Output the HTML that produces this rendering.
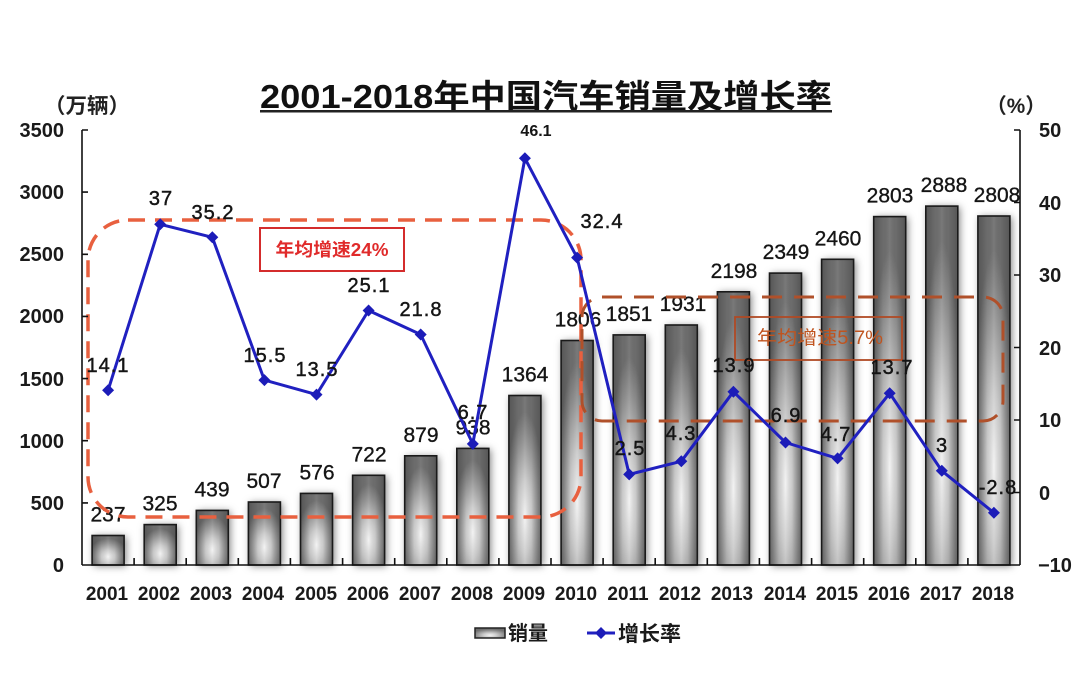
<!DOCTYPE html>
<html><head><meta charset="utf-8"><style>
html,body{margin:0;padding:0;background:#fff;}
svg{display:block;}
text{font-family:"Liberation Sans","Noto Sans CJK SC",sans-serif;}
</style></head><body>
<svg width="1080" height="685" viewBox="0 0 1080 685" xmlns="http://www.w3.org/2000/svg">
<defs>
<radialGradient id="bg" cx="0.5" cy="0.72" r="0.62">
<stop offset="0" stop-color="#f2f2f2"/>
<stop offset="0.35" stop-color="#cccccc"/>
<stop offset="0.75" stop-color="#909090"/>
<stop offset="1" stop-color="#6e6e6e"/>
</radialGradient>
<linearGradient id="hg" x1="0" y1="0" x2="1" y2="0">
<stop offset="0" stop-color="#000" stop-opacity="0.22"/>
<stop offset="0.3" stop-color="#000" stop-opacity="0.02"/>
<stop offset="0.5" stop-color="#fff" stop-opacity="0.08"/>
<stop offset="0.7" stop-color="#000" stop-opacity="0.02"/>
<stop offset="1" stop-color="#000" stop-opacity="0.22"/>
</linearGradient>
<filter id="sh" x="-50%" y="-10%" width="200%" height="120%">
<feDropShadow dx="2" dy="1" stdDeviation="4" flood-color="#000" flood-opacity="0.5"/>
</filter>
</defs>

<!-- title -->
<text x="260" y="108" font-size="33" font-weight="bold" fill="#111" textLength="572" lengthAdjust="spacingAndGlyphs">2001-2018年中国汽车销量及增长率</text>
<rect x="260" y="110" width="572" height="2.5" fill="#222"/>

<!-- unit labels -->
<text x="44" y="113" font-size="21" font-weight="bold" fill="#222" textLength="86" lengthAdjust="spacingAndGlyphs">（万辆）</text>
<text x="986" y="113" font-size="21" font-weight="bold" fill="#222" textLength="60" lengthAdjust="spacingAndGlyphs">（%）</text>

<!-- bars -->
<g filter="url(#sh)">
<rect x="92.1" y="535.5" width="32" height="29.5" fill="url(#bg)"/>
<rect x="144.2" y="524.6" width="32" height="40.4" fill="url(#bg)"/>
<rect x="196.3" y="510.4" width="32" height="54.6" fill="url(#bg)"/>
<rect x="248.4" y="502.0" width="32" height="63.0" fill="url(#bg)"/>
<rect x="300.5" y="493.4" width="32" height="71.6" fill="url(#bg)"/>
<rect x="352.6" y="475.3" width="32" height="89.7" fill="url(#bg)"/>
<rect x="404.7" y="455.8" width="32" height="109.2" fill="url(#bg)"/>
<rect x="456.8" y="448.4" width="32" height="116.6" fill="url(#bg)"/>
<rect x="508.9" y="395.5" width="32" height="169.5" fill="url(#bg)"/>
<rect x="561.1" y="340.5" width="32" height="224.5" fill="url(#bg)"/>
<rect x="613.2" y="334.9" width="32" height="230.1" fill="url(#bg)"/>
<rect x="665.3" y="325.0" width="32" height="240.0" fill="url(#bg)"/>
<rect x="717.4" y="291.8" width="32" height="273.2" fill="url(#bg)"/>
<rect x="769.5" y="273.1" width="32" height="291.9" fill="url(#bg)"/>
<rect x="821.6" y="259.3" width="32" height="305.7" fill="url(#bg)"/>
<rect x="873.7" y="216.6" width="32" height="348.4" fill="url(#bg)"/>
<rect x="925.8" y="206.1" width="32" height="358.9" fill="url(#bg)"/>
<rect x="977.9" y="216.0" width="32" height="349.0" fill="url(#bg)"/>
</g>
<g fill="url(#hg)" stroke="#1a1a1a" stroke-width="1.6">
<rect x="92.1" y="535.5" width="32" height="29.5"/>
<rect x="144.2" y="524.6" width="32" height="40.4"/>
<rect x="196.3" y="510.4" width="32" height="54.6"/>
<rect x="248.4" y="502.0" width="32" height="63.0"/>
<rect x="300.5" y="493.4" width="32" height="71.6"/>
<rect x="352.6" y="475.3" width="32" height="89.7"/>
<rect x="404.7" y="455.8" width="32" height="109.2"/>
<rect x="456.8" y="448.4" width="32" height="116.6"/>
<rect x="508.9" y="395.5" width="32" height="169.5"/>
<rect x="561.1" y="340.5" width="32" height="224.5"/>
<rect x="613.2" y="334.9" width="32" height="230.1"/>
<rect x="665.3" y="325.0" width="32" height="240.0"/>
<rect x="717.4" y="291.8" width="32" height="273.2"/>
<rect x="769.5" y="273.1" width="32" height="291.9"/>
<rect x="821.6" y="259.3" width="32" height="305.7"/>
<rect x="873.7" y="216.6" width="32" height="348.4"/>
<rect x="925.8" y="206.1" width="32" height="358.9"/>
<rect x="977.9" y="216.0" width="32" height="349.0"/>
</g>

<!-- bar value labels -->
<g font-size="21" fill="#151515" text-anchor="middle" stroke="#151515" stroke-width="0.35">
<text x="108" y="521.5">237</text>
<text x="160" y="510.6">325</text>
<text x="212" y="496.4">439</text>
<text x="264" y="488">507</text>
<text x="317" y="479.4">576</text>
<text x="369" y="461.3">722</text>
<text x="421" y="441.8">879</text>
<text x="473" y="434.4">938</text>
<text x="525" y="381.5">1364</text>
<text x="578" y="326.5">1806</text>
<text x="629" y="320.9">1851</text>
<text x="683" y="311">1931</text>
<text x="734" y="277.8">2198</text>
<text x="786" y="259.1">2349</text>
<text x="838" y="245.3">2460</text>
<text x="890" y="202.6">2803</text>
<text x="944" y="192.1">2888</text>
<text x="997" y="202">2808</text>
</g>

<!-- dashed boxes -->
<rect x="88" y="220" width="493" height="297" rx="40" ry="40" fill="none" stroke="#e8603f" stroke-width="3.5" stroke-dasharray="17 10"/>
<rect x="582" y="297" width="421" height="124" rx="20" ry="20" fill="none" stroke="#b0502a" stroke-width="3" stroke-dasharray="20 12"/>

<!-- annotation boxes -->
<rect x="260" y="228" width="144" height="43" fill="#fff" stroke="#d42c2c" stroke-width="2"/>
<text x="332" y="256" font-size="18" font-weight="bold" fill="#e02a2a" text-anchor="middle" textLength="113" lengthAdjust="spacingAndGlyphs">年均增速24%</text>
<rect x="735" y="317" width="167" height="43" fill="none" stroke="#b04a25" stroke-width="1.8"/>
<text x="820" y="344" font-size="19" fill="#c0541f" text-anchor="middle" textLength="126" lengthAdjust="spacingAndGlyphs">年均增速5.7%</text>

<!-- axes -->
<g stroke="#111" stroke-width="1.6" fill="none">
<line x1="82" y1="130" x2="82" y2="565"/>
<line x1="82" y1="565" x2="1020" y2="565"/>
<line x1="1020" y1="130" x2="1020" y2="565"/>
<path d="M82 130h6M82 192.1h6M82 254.3h6M82 316.4h6M82 378.6h6M82 440.7h6M82 502.9h6"/>
<path d="M1020 130h-6M1020 202.5h-6M1020 275h-6M1020 347.5h-6M1020 420h-6M1020 492.5h-6"/>
<path d="M134.1 565v-7M186.2 565v-7M238.3 565v-7M290.4 565v-7M342.6 565v-7M394.7 565v-7M446.8 565v-7M498.9 565v-7M551 565v-7M603.1 565v-7M655.2 565v-7M707.3 565v-7M759.4 565v-7M811.6 565v-7M863.7 565v-7M915.8 565v-7M967.9 565v-7"/>
</g>

<!-- left labels -->
<g font-size="20" font-weight="bold" fill="#1a1a1a" text-anchor="end">
<text x="64" y="137">3500</text>
<text x="64" y="199">3000</text>
<text x="64" y="261">2500</text>
<text x="64" y="323">2000</text>
<text x="64" y="386">1500</text>
<text x="64" y="448">1000</text>
<text x="64" y="510">500</text>
<text x="64" y="572">0</text>
</g>
<!-- right labels -->
<g font-size="20" font-weight="bold" fill="#1a1a1a">
<text x="1039" y="137">50</text>
<text x="1039" y="210">40</text>
<text x="1039" y="282">30</text>
<text x="1039" y="355">20</text>
<text x="1039" y="427">10</text>
<text x="1039" y="500">0</text>
<text x="1038" y="572">−10</text>
</g>
<!-- year labels -->
<g font-size="19" font-weight="bold" fill="#1a1a1a" text-anchor="middle">
<text x="107" y="600">2001</text>
<text x="159" y="600">2002</text>
<text x="211" y="600">2003</text>
<text x="263" y="600">2004</text>
<text x="316" y="600">2005</text>
<text x="368" y="600">2006</text>
<text x="420" y="600">2007</text>
<text x="472" y="600">2008</text>
<text x="524" y="600">2009</text>
<text x="576" y="600">2010</text>
<text x="628" y="600">2011</text>
<text x="680" y="600">2012</text>
<text x="732" y="600">2013</text>
<text x="785" y="600">2014</text>
<text x="837" y="600">2015</text>
<text x="889" y="600">2016</text>
<text x="941" y="600">2017</text>
<text x="993" y="600">2018</text>
</g>

<!-- growth line -->
<polyline fill="none" stroke="#2020c0" stroke-width="3" stroke-linejoin="round" points="108.1,390.3 160.2,224.3 212.3,237.3 264.4,380.1 316.5,394.6 368.6,310.5 420.7,334.5 472.8,443.9 524.9,158.3 577.1,257.6 629.2,474.4 681.3,461.3 733.4,391.7 785.5,442.5 837.6,458.4 889.7,393.2 941.8,470.8 993.9,512.8"/>
<g fill="#1c1cb8">
<path d="M108.1 384.3l6 6-6 6-6-6z"/>
<path d="M160.2 218.3l6 6-6 6-6-6z"/>
<path d="M212.3 231.3l6 6-6 6-6-6z"/>
<path d="M264.4 374.1l6 6-6 6-6-6z"/>
<path d="M316.5 388.6l6 6-6 6-6-6z"/>
<path d="M368.6 304.5l6 6-6 6-6-6z"/>
<path d="M420.7 328.5l6 6-6 6-6-6z"/>
<path d="M472.8 437.9l6 6-6 6-6-6z"/>
<path d="M524.9 152.3l6 6-6 6-6-6z"/>
<path d="M577.1 251.6l6 6-6 6-6-6z"/>
<path d="M629.2 468.4l6 6-6 6-6-6z"/>
<path d="M681.3 455.3l6 6-6 6-6-6z"/>
<path d="M733.4 385.7l6 6-6 6-6-6z"/>
<path d="M785.5 436.5l6 6-6 6-6-6z"/>
<path d="M837.6 452.4l6 6-6 6-6-6z"/>
<path d="M889.7 387.2l6 6-6 6-6-6z"/>
<path d="M941.8 464.8l6 6-6 6-6-6z"/>
<path d="M993.9 506.8l6 6-6 6-6-6z"/>
</g>

<!-- growth labels -->
<g font-size="20" fill="#151515" text-anchor="middle" letter-spacing="1" stroke="#151515" stroke-width="0.45">
<text x="108" y="372">14.1</text>
<text x="161" y="205">37</text>
<text x="213" y="219">35.2</text>
<text x="265" y="362">15.5</text>
<text x="317" y="376">13.5</text>
<text x="369" y="292">25.1</text>
<text x="421" y="316">21.8</text>
<text x="473" y="419">6.7</text>
<text x="602" y="228">32.4</text>
<text x="630" y="455">2.5</text>
<text x="681" y="440">4.3</text>
<text x="734" y="372">13.9</text>
<text x="786" y="422">6.9</text>
<text x="836" y="441">4.7</text>
<text x="892" y="374">13.7</text>
<text x="942" y="452">3</text>
<text x="998" y="494">-2.8</text>
</g>
<text x="536" y="136" font-size="16" font-weight="bold" fill="#151515" text-anchor="middle">46.1</text>

<!-- legend -->
<rect x="475" y="628" width="30" height="10" fill="url(#bg)" stroke="#222" stroke-width="1.5"/>
<text x="508" y="640" font-size="20" font-weight="bold" fill="#1a1a1a">销量</text>
<line x1="587" y1="633" x2="615" y2="633" stroke="#2020c0" stroke-width="3"/>
<path d="M601 627l6 6-6 6-6-6z" fill="#1c1cb8"/>
<text x="618" y="641" font-size="21" font-weight="bold" fill="#1a1a1a">增长率</text>
</svg>
</body></html>
